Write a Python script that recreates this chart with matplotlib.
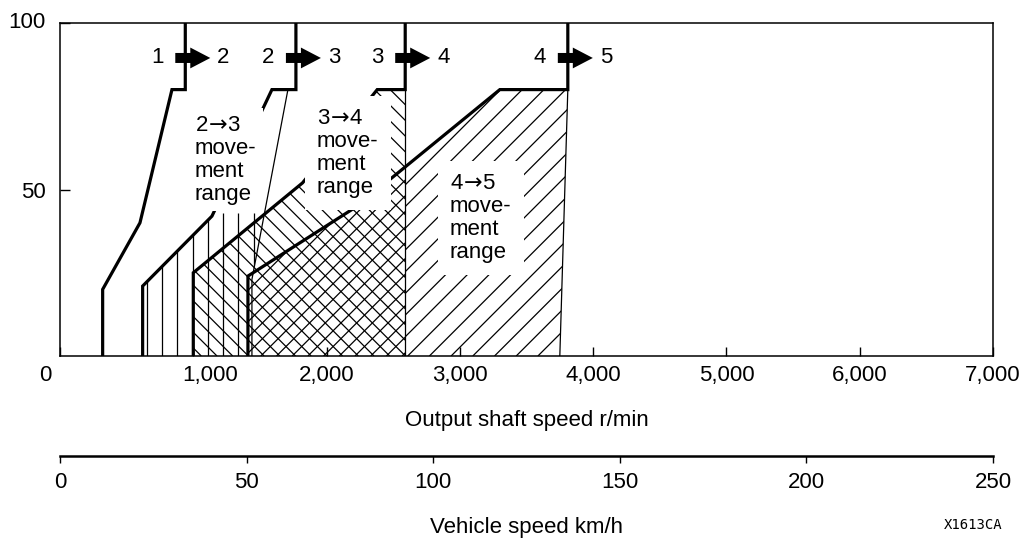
import numpy as np
import matplotlib
matplotlib.use("Agg")
import matplotlib.pyplot as plt
from matplotlib.patches import Polygon
from matplotlib.collections import LineCollection
from matplotlib.transforms import offset_copy, ScaledTranslation

plt.rcParams['font.family'] = ['Liberation Sans', 'DejaVu Sans']
FS = 16

# upshift lines: output shaft speed (r/min) vs throttle opening (%)
shift12_x = [320, 320, 600, 840, 940, 940]
shift12_y = [0, 20, 40, 80, 80, 100]
shift23_x = [620, 620, 1140, 1590, 1770, 1770]
shift23_y = [0, 21, 42, 80, 80, 100]
shift34_x = [1000, 1000, 1820, 2380, 2590, 2590]
shift34_y = [0, 25, 52, 80, 80, 100]
shift45_x = [1410, 1410, 2230, 3300, 3810, 3810]
shift45_y = [0, 24, 45, 80, 80, 100]

# right-hand edge of each movement range
edge23_x = [1440, 1440, 1710]
edge23_y = [0, 23, 80]
edge34_x = [2590, 2590]
edge34_y = [0, 80]
edge45_x = [3750, 3810]
edge45_y = [0, 80]

gear_from = ['1', '2', '3', '4']
gear_to = ['2', '3', '4', '5']
ARR = '$\\!\\rightarrow\\!$'
range_labels = ['2' + ARR + '3\nmove-\nment\nrange',
                '3' + ARR + '4\nmove-\nment\nrange',
                '4' + ARR + '5\nmove-\nment\nrange']

rpm_ticks = [0, 1000, 2000, 3000, 4000, 5000, 6000, 7000]
rpm_labels = ['0', '1,000', '2,000', '3,000', '4,000', '5,000', '6,000', '7,000']
thr_ticks = [50, 100]
kmh_ticks = [0, 50, 100, 150, 200, 250]

W, H = 1026, 538
fig = plt.figure(figsize=(W / 100, H / 100), dpi=100)
L, R, T, B = 60, 993, 23, 356
ax = fig.add_axes([L / W, 1 - B / H, (R - L) / W, (B - T) / H])
ax.set_xlim(0, 7000)
ax.set_ylim(0, 100)


def region(sx, sy, ex, ey):
    pts = [(x, y) for x, y in zip(sx, sy) if y < 100]
    pts += list(zip(ex[::-1], ey[::-1]))
    return pts


def hatch(verts, kind, step, start=0.0, top=None, lw=0.9):
    patch = Polygon(verts, closed=True, fill=False, edgecolor='none')
    ax.add_patch(patch)
    x0, y0, x1, y1 = ax.bbox.extents
    if top is not None:
        y1 = ax.transData.transform((0, top))[1]
    h = y1 - y0
    segs = []
    if kind == '|':
        for c in np.arange(x0 + start, x1, step):
            segs.append([(c, y0), (c, y1)])
    elif kind == '/':
        for c in np.arange(x0 - h + start, x1, step):
            segs.append([(c, y0), (c + h, y1)])
    else:
        for c in np.arange(x0 + start, x1 + h, step):
            segs.append([(c, y0), (c - h, y1)])
    inv = ax.transData.inverted()
    segs = [inv.transform(s) for s in segs]
    lc = LineCollection(segs, colors='black', linewidths=lw, zorder=1)
    ax.add_collection(lc, autolim=False)
    lc.set_clip_path(patch)


# 2->3 range: vertical hatch (stops under its label)
hatch(region(shift23_x, shift23_y, edge23_x, edge23_y), '|', 15.3, start=10.2, top=43)
# 3->4 range: back-slash hatch
hatch(region(shift34_x, shift34_y, edge34_x, edge34_y), '\\', 15.7)
# 4->5 range: slash hatch, finer where it overlaps the 3->4 range
split = edge34_x[0]
xs45 = np.array(shift45_x[1:-1])
ys45 = np.array(shift45_y[1:-1])
y_split = np.interp(split, xs45, ys45)
left = [(shift45_x[0], 0)] + [(x, y) for x, y in zip(xs45, ys45) if x < split]
left += [(split, y_split), (split, 0)]
right = [(split, 0), (split, y_split)] + [(x, y) for x, y in zip(xs45, ys45) if x > split]
right += list(zip(edge45_x[::-1], edge45_y[::-1]))
hatch(left, '/', 15.7)
hatch(right, '/', 21.7, start=8)

# thin edges of movement ranges
for ex, ey in [(edge23_x, edge23_y), (edge34_x, edge34_y), (edge45_x, edge45_y)]:
    ax.plot(ex, ey, color='black', lw=0.9, zorder=2)

# thick upshift lines
shifts = [(shift12_x, shift12_y), (shift23_x, shift23_y),
          (shift34_x, shift34_y), (shift45_x, shift45_y)]
for sx, sy in shifts:
    ax.plot(sx, sy, color='black', lw=2.3, zorder=3, solid_joinstyle='miter')

# range labels on white boxes
label_pos = [(1012, 72.4), (1928, 74.5), (2925, 55)]
label_pad = [0.3, 0.55, 0.55]
for txt, (x, y), pad in zip(range_labels, label_pos, label_pad):
    ax.text(x, y, txt, fontsize=FS, ha='left', va='top', linespacing=1.12,
            zorder=4, bbox=dict(boxstyle='square,pad=%s' % pad,
                                facecolor='white', edgecolor='none'))

# gear change arrows at the top of each shift line
arrow_y = 89.5
tail_tr = offset_copy(ax.transData, fig=fig, x=-10, y=0, units='dots')
tip_tr = offset_copy(ax.transData, fig=fig, x=25, y=0, units='dots')
from_tr = offset_copy(ax.transData, fig=fig, x=-28, y=0, units='dots')
to_tr = offset_copy(ax.transData, fig=fig, x=38, y=0, units='dots')
for (sx, sy), g0, g1 in zip(shifts, gear_from, gear_to):
    x = sx[-1]
    ax.annotate('', xy=(x, arrow_y), xycoords=tip_tr,
                xytext=(x, arrow_y), textcoords=tail_tr, zorder=5,
                arrowprops=dict(arrowstyle='simple,head_length=1.44,head_width=1.5,tail_width=0.72',
                                mutation_scale=10, color='black', lw=0,
                                shrinkA=0, shrinkB=0))
    ax.text(x, arrow_y, g0, transform=from_tr, fontsize=FS, ha='center', va='center')
    ax.text(x, arrow_y, g1, transform=to_tr, fontsize=FS, ha='center', va='center')

# main axes styling
for s in ax.spines.values():
    s.set_linewidth(1.1)
ax.set_xticks(rpm_ticks, rpm_labels)
ax.set_yticks(thr_ticks)
ax.tick_params(axis='x', direction='in', length=6.5, width=1, pad=6.5, labelsize=FS)
ax.tick_params(axis='y', direction='in', length=7, width=1, pad=10.5, labelsize=FS)
lbls = ax.get_xticklabels()
lbls[0].set_transform(lbls[0].get_transform() + ScaledTranslation(-0.15, 0, fig.dpi_scale_trans))
lbls[1].set_transform(lbls[1].get_transform() + ScaledTranslation(0.17, 0, fig.dpi_scale_trans))
ylbls = ax.get_yticklabels()
ylbls[-1].set_transform(ylbls[-1].get_transform() + ScaledTranslation(0, 0.03, fig.dpi_scale_trans))
ax.set_xlabel('Output shaft speed r/min', fontsize=FS, labelpad=17)

# vehicle speed scale
ax2 = fig.add_axes([L / W, 1 - 456 / H, (R - L) / W, 0.0001])
ax2.set_xlim(0, 250)
ax2.set_xticks(kmh_ticks)
ax2.set_yticks([])
ax2.patch.set_visible(False)
for k in ['top', 'left', 'right']:
    ax2.spines[k].set_visible(False)
ax2.spines['bottom'].set_linewidth(1.8)
ax2.tick_params(axis='x', direction='out', length=5, width=1, pad=6.5, labelsize=FS)
ax2.set_xlabel('Vehicle speed km/h', fontsize=FS, labelpad=17)

fig.text(973 / W, 1 - 525 / H, 'X1613CA', fontsize=10, family='DejaVu Sans Mono',
         ha='center', va='center')

fig.savefig('out.png', dpi=100)
